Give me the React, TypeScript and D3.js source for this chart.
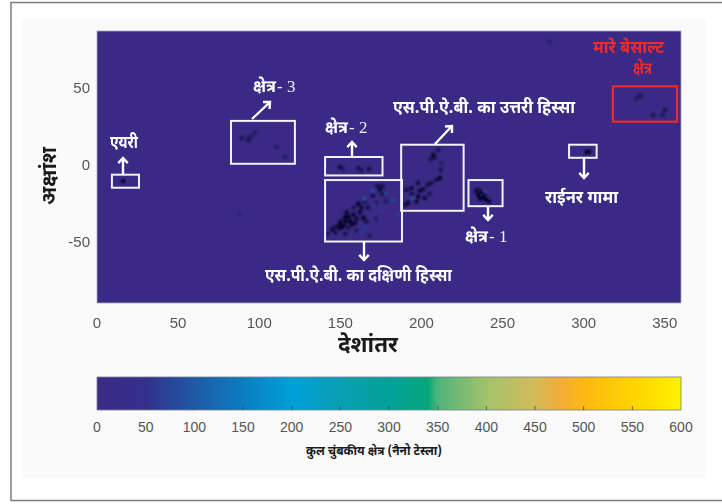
import React from "react";
import * as d3 from "d3";

const lonTicks = [0, 50, 100, 150, 200, 250, 300, 350];
const latTicks = [50, 0, -50];
const fieldTicks = [0, 50, 100, 150, 200, 250, 300, 350, 400, 450, 500, 550, 600];
const colourStops = [0, 50, 100, 150, 200, 250, 300, 340, 350, 400, 450, 475, 500, 550, 600];
const colourValues = ["#3a2a85", "#33308c", "#1f5aa5", "#0b7dbf", "#00a0d8", "#0a9fb4", "#03a198", "#05a67a", "#4fb47a", "#a3c26c", "#d3bb5a", "#f2ab3a", "#fdb813", "#ffd300", "#fff200"];

// [longitude, latitude, darkness 0..1]
const southDark = [[152.9,-34.2,1],[151.9,-40.1,1],[161.1,-25.5,1],[164.2,-34.6,1],[158,-32.5,.9],[174.5,-16.2,.8],[149.8,-41.1,.95],[144.7,-42.2,.7],[156,-36.8,1],[154,-31,.9],[150,-37,.85],[147,-44,.7],[159,-38,.85],[162,-31,.85],[167,-28,.65],[170,-20,.7],[176,-19,.75],[172,-25,.5],[155,-41,.6],[166,-37,.65],[142,-45,.5],[153,-45,.6],[160,-43,.45],[178,-24,.45],[172,-35,.4],[168,-46,.4],[155,-34,1],[157,-39,.9],[153,-37,1],[150,-39,.9],[160,-35,.85],[163,-28,.75],[158,-28,.6],[165,-24,.6],[173,-14,.7],[176,-14,.6],[148,-40,.7],[146,-41,.55]];
const northDark = [[207.2,6.5,.85],[210.3,9.7,.55],[211.3,-8.7,1],[211.9,-3.3,.55],[212.3,1,.4],[206.1,-12,.6],[197.9,-12,.75],[193.8,-15.2,.8],[190.7,-16.3,.7],[197.9,-20.6,.9],[202,-21.7,.8],[191.8,-24.9,.75],[189.7,-26,.7],[204,-13,.7],[201,-16,.75],[196.9,-23.9,.8],[209,-10,.6],[194,-19,.7],[188.5,-20,.45],[205,-19,.55],[205.5,3.5,.55],[208,4.5,.7],[199,-17,.8]];
const region1Dark = [[234.9,-19.5,1],[238,-21.7,1],[240,-22.8,1],[236,-22,1],[237,-18,.9],[233.5,-17,.7],[242,-24,.7],[235,-16,.6],[239,-20,.8]];
const region3Dark = [[89.2,17.3,.55],[93.3,16.2,.65],[97.4,21,.4],[110.8,11.5,.35],[115.9,5,.35],[95,18.5,.4]];
const region2Dark = [[149.8,-1.5,.65],[151.5,-2.5,.45],[161.1,-2.2,.6],[163,-3.5,.5],[167.7,-2.8,.65]];
const mareDark = [[334.7,44.8,.5],[332.5,43,.4],[342.9,32.3,.55],[350.1,35.7,.55],[348.7,32.5,.5]];
const isolatedDark = [[301.8,8.2,1],[303.5,8.5,.7],[16,-10.6,.9],[279,80,.3],[88,-32,.2]];
const blueSpecks = [[178,-18.5,85],[170,-17,100],[165,-22,110],[170.5,-26,70],[182.5,-23,90],[186,-33,70],[176,-30,65],[165,-41,70],[163,-44,60],[194.8,-21.7,105],[190,-20,60],[239.4,-17.4,80]];

const regionBoxes = [[9.2,25.9,-6.5,-15],[82.6,122,28.5,.6],[140.6,176,5,-7],[140.6,188,-10,-50],[187.5,226,13,-30],[229,250,-10,-27],[291,308,13,4.5]];
const redBox = [318,357.6,51,28];

// label, x from, x to, y centre, colour
const plotLabels: [string, number, number, number, string][] = [
  ["एयरी",110,138,142,"#fff"],
  ["क्षेत्र",253,276,86,"#fff"],
  ["क्षेत्र",325,348,127,"#fff"],
  ["एस.पी.ऐ.बी. का दक्षिणी हिस्सा",265,452,275,"#fff"],
  ["एस.पी.ऐ.बी. का उत्तरी हिस्सा",393,575,107,"#fff"],
  ["राईनर गामा",545,618,197,"#fff"],
  ["क्षेत्र",465,488,236,"#fff"],
  ["मारे बेसाल्ट",593,664,47,"#ee2a2a"],
  ["क्षेत्र",633,652,68,"#ee2a2a"],
];
const regionNumbers: [string, number, number][] = [["- 3",277,86],["- 2",349,127],["- 1",489,236]];
const arrows = [[123,175,123,158],[252,119,270,102],[352,157,352,142],[364,242,364,260],[435,144,452,126],[488,206,488,220],[584,158,584,178]];

const x = d3.scaleLinear().domain([0, 360]).range([97, 681]);
const y = d3.scaleLinear().domain([-90, 87]).range([303, 31]);
const cb = d3.scaleLinear().domain([0, 600]).range([97, 681]);
const colour = d3.scaleLinear<string>().domain(colourStops).range(colourValues);
const FONT = "'Liberation Sans', Arial, sans-serif";
const HINDI = "'Noto Sans Devanagari', 'Noto Sans', sans-serif";

const allDark = [...southDark, ...northDark, ...region1Dark, ...region3Dark, ...region2Dark, ...mareDark, ...isolatedDark];

function Arrow({ a }: { a: number[] }) {
  const [x1, y1, x2, y2] = a;
  const ang = Math.atan2(y2 - y1, x2 - x1);
  const h = 7;
  const p = (d: number) => [x2 - h * Math.cos(ang + d), y2 - h * Math.sin(ang + d)];
  const [ax, ay] = p(0.75), [bx, by] = p(-0.75);
  return <path d={`M${x1},${y1}L${x2},${y2}M${ax},${ay}L${x2},${y2}L${bx},${by}`} fill="none" stroke="#fff" strokeWidth={2.4} />;
}

export default function App() {
  const gradStops = d3.range(0, 601, 10);
  return (
    <svg width={722} height={504} style={{ position: "absolute", left: 0, top: 0, background: "#fff" }}>
      <defs>
        <linearGradient id="cbar" x1="0" x2="1" y1="0" y2="0">
          {gradStops.map(v => <stop key={v} offset={v / 600} stopColor={colour(v)} />)}
        </linearGradient>
        <filter id="soft" filterUnits="userSpaceOnUse" x={90} y={25} width={600} height={285}><feGaussianBlur stdDeviation={1.1} /></filter>
      </defs>
      <path d="M722,2.5H11V500.5H722" fill="none" stroke="#7d7d7d" strokeWidth={1.5} />
      <rect x={22} y={19} width={684} height={459} fill="#fafafa" />

      <rect x={x(0)} y={y(87)} width={x(360) - x(0)} height={y(-90) - y(87)} fill={colour(0)} stroke="#a9a6c6" strokeWidth={0.8} />
      <g filter="url(#soft)">
        {allDark.map((d, i) => (
          <rect key={i} x={x(d[0]) - 2} y={y(d[1]) - 2} width={x(2.5) - x(0)} height={y(0) - y(2.6)} fill="#05051f" opacity={d[2]} />
        ))}
        {blueSpecks.map((d, i) => (
          <rect key={i} x={x(d[0]) - 1.6} y={y(d[1]) - 1.6} width={x(2) - x(0)} height={y(0) - y(2)} fill={colour(d[2])} />
        ))}
      </g>
      {regionBoxes.map((b, i) => (
        <rect key={i} x={x(b[0])} y={y(b[2])} width={x(b[1]) - x(b[0])} height={y(b[3]) - y(b[2])} fill="none" stroke="#f4f2fa" strokeWidth={2} />
      ))}
      <rect x={x(redBox[0])} y={y(redBox[2])} width={x(redBox[1]) - x(redBox[0])} height={y(redBox[3]) - y(redBox[2])} fill="none" stroke="#ee2a2a" strokeWidth={2.2} />
      {arrows.map((a, i) => <Arrow key={i} a={a} />)}
      {plotLabels.map(([t, a, b, c, col], i) => (
        <text key={i} x={a} y={c} dy="0.33em" fill={col} fontFamily={HINDI} fontWeight={700} fontSize={17}
          textLength={b - a} lengthAdjust="spacingAndGlyphs">{t}</text>
      ))}
      {regionNumbers.map(([t, a, c], i) => (
        <text key={i} x={a} y={c} dy="0.33em" fill="#f0eef6" fontFamily="'Liberation Serif', serif" fontSize={17}>{t}</text>
      ))}

      {lonTicks.map(t => (
        <text key={t} x={x(t)} y={323} dy="0.35em" textAnchor="middle" fill="#555" fontFamily={FONT} fontSize={15}>{t}</text>
      ))}
      {latTicks.map(t => (
        <text key={t} x={90} y={y(t)} dy="0.35em" textAnchor="end" fill="#555" fontFamily={FONT} fontSize={15}>{t}</text>
      ))}
      <text x={338} y={344} dy="0.33em" fill="#1a1a1a" fontFamily={HINDI} fontWeight={700} fontSize={23} textLength={60} lengthAdjust="spacingAndGlyphs">देशांतर</text>
      <text transform="translate(49,205) rotate(-90)" dy="0.33em" fill="#1a1a1a" fontFamily={HINDI} fontWeight={700} fontSize={20} textLength={58} lengthAdjust="spacingAndGlyphs">अक्षांश</text>

      <rect x={cb(0)} y={377} width={cb(600) - cb(0)} height={33} fill="url(#cbar)" stroke="#77808f" strokeWidth={0.8} />
      {fieldTicks.slice(1, -1).map(t => (
        <line key={t} x1={cb(t)} x2={cb(t)} y1={410} y2={406} stroke="#3b4a5a" strokeWidth={0.8} />
      ))}
      {fieldTicks.map(t => (
        <text key={t} x={cb(t)} y={427} dy="0.35em" textAnchor="middle" fill="#555" fontFamily={FONT} fontSize={14}>{t}</text>
      ))}
      <text x={306} y={451} dy="0.33em" fill="#1a1a1a" fontFamily={HINDI} fontWeight={700} fontSize={12} textLength={136} lengthAdjust="spacingAndGlyphs">कुल चुंबकीय क्षेत्र (नैनो टेस्ला)</text>
    </svg>
  );
}
